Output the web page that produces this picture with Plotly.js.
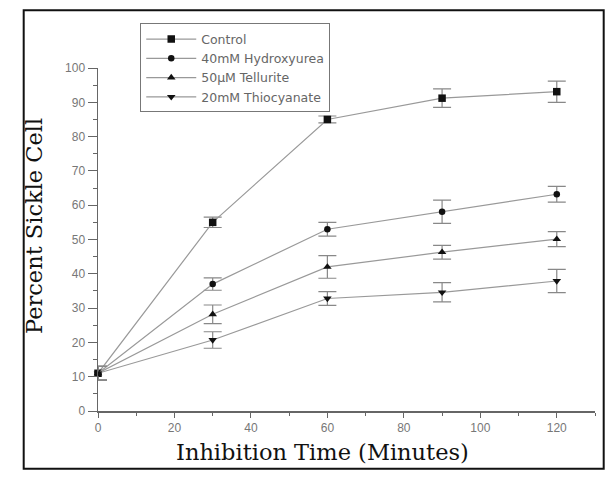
<!DOCTYPE html>
<html><head><meta charset="utf-8">
<script src="https://cdn.plot.ly/plotly-3.0.1.min.js"></script>
<style>body{margin:0;padding:0;background:#fff}#chart{width:608px;height:478px}</style>
</head><body><div id="chart"></div>
<script>
const times = [0, 30, 60, 90, 120];
const seriesNames = ["Control", "40mM Hydroxyurea", "50\u00b5M Tellurite", "20mM Thiocyanate"];
const controlVals = [11, 55, 85, 91.2, 93.1];
const controlErr = [2, 1.5, 1, 2.7, 3.1];
const hydroxyureaVals = [11, 37, 53, 58.1, 63.2];
const hydroxyureaErr = [2, 1.8, 2, 3.4, 2.3];
const telluriteVals = [11, 28.2, 42, 46.3, 50.1];
const telluriteErr = [2, 2.7, 3.3, 2, 2.2];
const thiocyanateVals = [11, 20.7, 32.8, 34.6, 37.9];
const thiocyanateErr = [2, 2.4, 2, 2.8, 3.4];
const symbols = ["square", "circle", "triangle-up", "triangle-down"];
const xTitle = "Inhibition Time (Minutes)";
const yTitle = "Percent Sickle Cell";

const vals = [controlVals, hydroxyureaVals, telluriteVals, thiocyanateVals];
const errs = [controlErr, hydroxyureaErr, telluriteErr, thiocyanateErr];

const traces = seriesNames.map((n, i) => ({
  x: times, y: vals[i], name: n, type: 'scatter', mode: 'lines+markers',
  line: {color: '#999', width: 1.2},
  marker: {symbol: symbols[i], color: '#111', size: symbols[i] === 'circle' ? 6.5 : 7.5},
  error_y: {type: 'data', array: errs[i], visible: true, color: '#888', thickness: 1.2, width: 9},
  cliponaxis: false
}));

const tickFont = {family: 'Liberation Sans, Arial', size: 12, color: '#777'};
const titleFont = {family: 'DejaVu Serif, serif', size: 22.5, color: '#111'};

const layout = {
  width: 608, height: 478,
  margin: {l: 98, r: 13, t: 68, b: 67},
  paper_bgcolor: '#fff', plot_bgcolor: '#fff',
  showlegend: true,
  legend: {x: 0.085, y: 1.13, xanchor: 'left', yanchor: 'top', bgcolor: '#fff',
    bordercolor: '#777', borderwidth: 1, font: {family: 'DejaVu Sans, Arial', size: 12.5, color: '#666'},
    tracegroupgap: 0, itemwidth: 50},
  xaxis: {range: [0, 130], tickvals: [0, 20, 40, 60, 80, 100, 120], ticks: 'outside', ticklen: 5,
    tickcolor: '#666', showline: true, linecolor: '#666', linewidth: 1.5, showgrid: false, zeroline: false,
    tickfont: tickFont,
    minor: {dtick: 10, ticks: 'outside', ticklen: 3, tickcolor: '#666', showgrid: false}},
  yaxis: {range: [0, 100], dtick: 10, ticks: 'outside', ticklen: 9,
    tickcolor: '#666', showline: true, linecolor: '#666', linewidth: 1.5, showgrid: false, zeroline: false,
    tickfont: tickFont,
    minor: {dtick: 5, ticks: 'outside', ticklen: 4, tickcolor: '#666', showgrid: false}},
  annotations: [
    {text: xTitle, xref: 'paper', yref: 'paper', x: 0.4517, y: -0.1195, xanchor: 'center', yanchor: 'middle',
      showarrow: false, font: titleFont},
    {text: yTitle, xref: 'paper', yref: 'paper', x: -0.1288, y: 0.5394, xanchor: 'center', yanchor: 'middle',
      textangle: -90, showarrow: false, font: titleFont}
  ],
  shapes: [{type: 'rect', xref: 'paper', yref: 'paper', x0: -0.1495, x1: 1.0175, y0: -0.1685, y1: 1.1685,
    line: {color: '#111', width: 2}, fillcolor: 'rgba(0,0,0,0)'}]
};
Plotly.newPlot('chart', traces, layout, {displayModeBar: false, staticPlot: true});
</script></body></html>
